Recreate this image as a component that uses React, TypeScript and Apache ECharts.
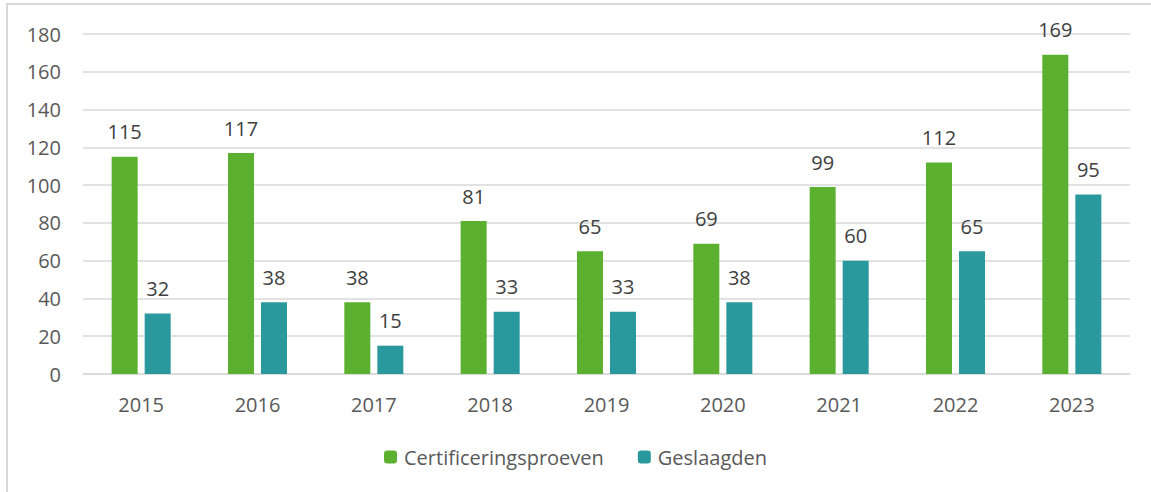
import React, { useEffect, useRef } from "react";
import * as echarts from "echarts";

const categories = ["2015", "2016", "2017", "2018", "2019", "2020", "2021", "2022", "2023"];
const certificeringsproeven = [115, 117, 38, 81, 65, 69, 99, 112, 169];
const geslaagden = [32, 38, 15, 33, 33, 38, 60, 65, 95];

export default function App() {
  const ref = useRef<HTMLDivElement>(null);
  useEffect(() => {
    const chart = echarts.init(ref.current!, null, { renderer: "svg" });
    const font = "Open Sans";
    const label = {
      show: true,
      position: "top",
      distance: 15,
      color: "#404040",
      fontSize: 20,
      fontFamily: font,
    };
    chart.setOption({
      animation: false,
      backgroundColor: "#ffffff",
      graphic: [
        {
          type: "rect",
          shape: { x: 7, y: 4, width: 1200, height: 600 },
          style: { fill: "none", stroke: "#d9d9d9", lineWidth: 2 },
          silent: true,
        },
      ],
      grid: { left: 83, right: 21, top: 34, bottom: 118, containLabel: false },
      xAxis: {
        type: "category",
        data: categories,
        axisLine: { show: true, lineStyle: { color: "#d9d9d9", width: 1.5 } },
        axisTick: { show: false },
        axisLabel: { color: "#595959", fontSize: 20, fontFamily: font, margin: 20 },
      },
      yAxis: {
        type: "value",
        min: 0,
        max: 180,
        interval: 20,
        axisLine: { show: false },
        axisTick: { show: false },
        splitLine: { lineStyle: { color: "#d9d9d9", width: 1.5 } },
        axisLabel: { color: "#595959", fontSize: 20, fontFamily: font, margin: 22 },
      },
      legend: {
        bottom: 20,
        left: "center",
        itemWidth: 13,
        itemHeight: 13,
        itemGap: 34,
        textStyle: { color: "#595959", fontSize: 20, fontFamily: font, padding: [0, 0, 0, 2] },
        data: ["Certificeringsproeven", "Geslaagden"],
      },
      series: [
        {
          name: "Certificeringsproeven",
          type: "bar",
          data: certificeringsproeven,
          barWidth: 26,
          barGap: "27%",
          itemStyle: { color: "#5bb030" },
          label,
        },
        {
          name: "Geslaagden",
          type: "bar",
          data: geslaagden,
          barWidth: 26,
          barGap: "27%",
          itemStyle: { color: "#2a999e" },
          label,
        },
      ],
    });
    return () => chart.dispose();
  }, []);
  return (
    <div
      ref={ref}
      style={{ position: "absolute", left: 0, top: 0, width: 1151, height: 492 }}
    />
  );
}
